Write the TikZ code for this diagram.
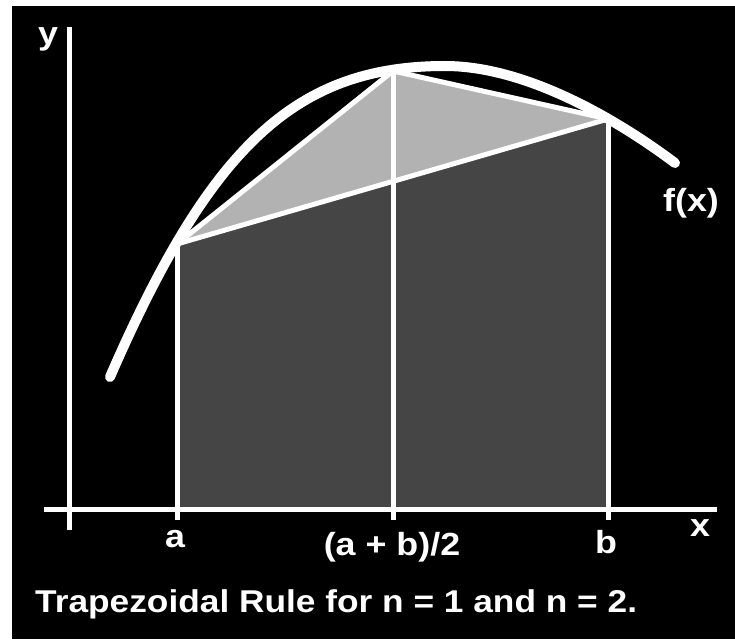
\documentclass[tikz,border=0pt]{standalone}
\usepackage{fontspec}
\newfontfamily\lab{Liberation Sans}[FakeStretch=1.12]
\begin{document}
\begin{tikzpicture}[x=1pt,y=-1pt,
  wline/.style={draw=white,line width=5pt},
  curvestyle/.style={draw=white,line width=10pt,line cap=round},
  lbl/.style={text=white,inner sep=0pt,anchor=base,font=\lab\bfseries\fontsize{32}{36}\selectfont}]
\useasboundingbox (0,0) rectangle (735,639);
\fill[white] (0,0) rectangle (735,639);
\fill[black] (12,6) rectangle (735,639);
% key points
\coordinate (S) at (110,377);
\coordinate (P) at (445,66);
\coordinate (E) at (675,163);
\coordinate (A) at (177,244);
\coordinate (M) at (393,71);
\coordinate (B) at (608,119);
\coordinate (Abot) at (177,520);
\coordinate (Mbot) at (393,520);
\coordinate (Bbot) at (608,520);
\coordinate (Aax) at (177,509);
\coordinate (Bax) at (608,509);
\coordinate (xl) at (44,509);
\coordinate (xr) at (717,509);
\coordinate (yt) at (69,27);
\coordinate (yb) at (69,530);
% fills
\fill[white!27!black] (Aax) -- (A) -- (B) -- (Bax) -- cycle;
\fill[white!70!black] (A) -- (M) -- (B) -- cycle;
% curve f(x)
\draw[curvestyle] (S) .. controls (210,147) and (295,66) .. (P)
                      .. controls (525,66) and (615,118) .. (E);
% chords
\draw[wline] (A) -- (B);
\draw[wline,line join=round] (A) -- (M) -- (B);
% verticals
\draw[wline] (Abot) -- (A);
\draw[wline] (Mbot) -- (M);
\draw[wline] (Bbot) -- (B);
% axes
\draw[wline] (xl) -- (xr);
\draw[wline] (yb) -- (yt);
% labels
\node[lbl] (ly) at (48,45) {y};
\node[lbl] (lx) at (700,536) {x};
\node[lbl] (la) at (175,547) {a};
\node[lbl] (lm) at (392,555) {(a + b)/2};
\node[lbl] (lb) at (606,553) {b};
\node[lbl] (lf) at (691,211) {f(x)};
\node[lbl,anchor=base west,font=\lab\bfseries\fontsize{31.5}{36}\selectfont] (cap) at (35,612) {Trapezoidal Rule for n = 1 and n = 2.};
\end{tikzpicture}
\end{document}
